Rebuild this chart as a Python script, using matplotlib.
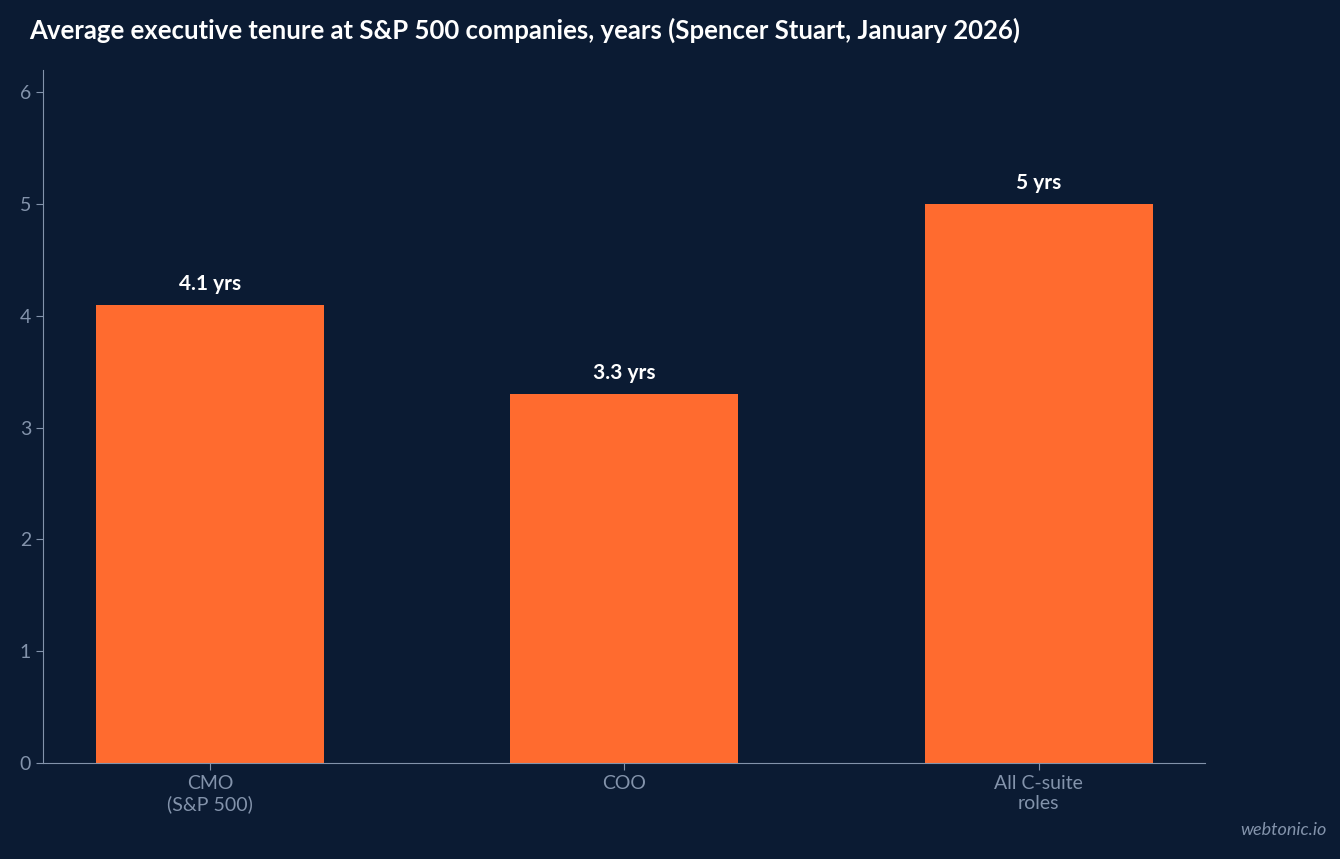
import matplotlib.pyplot as plt

plt.rcParams['font.family'] = ['Lato', 'DejaVu Sans']

categories = ['CMO\n(S&P 500)', 'COO', 'All C-suite\nroles']
tenure = [4.1, 3.3, 5.0]
value_labels = ['4.1 yrs', '3.3 yrs', '5 yrs']

bg = '#0b1b33'
bar_color = '#ff6b2f'
axis_color = '#8393ab'

fig = plt.figure(figsize=(13.4, 8.59), dpi=100, facecolor=bg)
ax = fig.add_axes([0.032, 0.1118, 0.867, 0.8067], facecolor=bg)

x = range(len(categories))
bars = ax.bar(x, tenure, width=0.55, color=bar_color)
for b, lab in zip(bars, value_labels):
    ax.text(b.get_x() + b.get_width() / 2, b.get_height() + 0.1, lab,
            ha='center', va='bottom', color='white', fontsize=15, fontweight='bold')

ax.set_xlim(-0.403, 2.4)
ax.set_ylim(0, 6.2)
ax.set_xticks(list(x))
ax.set_xticklabels(categories)
ax.set_yticks(range(7))
ax.tick_params(colors=axis_color, labelsize=14, length=5)
for s in ['top', 'right']:
    ax.spines[s].set_visible(False)
for s in ['left', 'bottom']:
    ax.spines[s].set_color(axis_color)

fig.text(0.022, 0.965, 'Average executive tenure at S&P 500 companies, years (Spencer Stuart, January 2026)',
         color='white', fontsize=18.5, fontweight='bold', va='center')
fig.text(0.99, 0.028, 'webtonic.io', color=axis_color, fontsize=13, style='italic', ha='right')

fig.savefig('out.png', facecolor=bg)
